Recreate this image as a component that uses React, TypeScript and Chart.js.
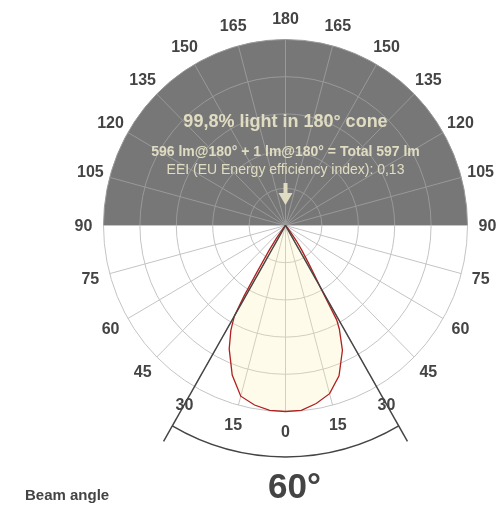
import React, { useEffect, useRef } from "react";
import { Chart, registerables } from "chart.js";

Chart.register(...registerables);

// ---- data ----
const ringValues = [1, 2, 3, 4, 5];
const tickAngles = [0, 15, 30, 45, 60, 75, 90, 105, 120, 135, 150, 165, 180];
const curveAngles = [0, 5, 10, 15, 20, 25, 28, 29, 30, 31, 32, 34, 36, 40, 45];
const curveIntensityLeft = [5.0, 4.99, 4.9, 4.75, 4.28, 3.66, 3.2, 3.0, 2.8, 2.2, 1.5, 0.8, 0.42, 0.1, 0];
const curveIntensityRight = [5.0, 4.99, 4.86, 4.68, 4.3, 3.7, 3.15, 2.9, 1.9, 1.5, 1.2, 0.8, 0.5, 0.12, 0];
const beamAngle = 60;
const headline = "99,8% light in 180° cone";
const fluxLine = "596 lm@180° + 1 lm@180° = Total 597 lm";
const eeiLine = "EEI (EU Energy efficiency index): 0,13";
const beamLabel = "Beam angle";

// ---- layout ----
const W = 497;
const H = 511;
const CX = 285.5;
const CY = 225.5;
const PXX = 36.4;
const PXY = 37.2;
const FONT = '"Liberation Sans", Arial, Helvetica, sans-serif';

const deg = (a: number) => (a * Math.PI) / 180;

function buildCurve() {
  const pts: { x: number; y: number }[] = [];
  for (let i = curveAngles.length - 1; i >= 0; i--) {
    const t = deg(curveAngles[i]);
    const r = curveIntensityLeft[i];
    pts.push({ x: -r * Math.sin(t), y: -r * Math.cos(t) });
  }
  for (let i = 1; i < curveAngles.length; i++) {
    const t = deg(curveAngles[i]);
    const r = curveIntensityRight[i];
    pts.push({ x: r * Math.sin(t), y: -r * Math.cos(t) });
  }
  return pts;
}

const polarPlugin = {
  id: "polarDecor",
  beforeDatasetsDraw(chart: any) {
    const ctx = chart.ctx;
    const xs = chart.scales.x;
    const ys = chart.scales.y;
    const cx = xs.getPixelForValue(0);
    const cy = ys.getPixelForValue(0);
    const rx = (r: number) => xs.getPixelForValue(r) - cx;
    const ry = (r: number) => cy - ys.getPixelForValue(r);
    const R = ringValues[ringValues.length - 1];
    ctx.save();
    // dark upper half
    ctx.beginPath();
    ctx.moveTo(cx, cy);
    ctx.ellipse(cx, cy, rx(R), ry(R), 0, Math.PI, 2 * Math.PI);
    ctx.closePath();
    ctx.fillStyle = "#777777";
    ctx.fill();
    // rings
    ctx.lineWidth = 1;
    for (const r of ringValues) {
      ctx.beginPath();
      ctx.ellipse(cx, cy, rx(r), ry(r), 0, 0, Math.PI);
      ctx.strokeStyle = "#c4c4c4";
      ctx.stroke();
      ctx.beginPath();
      ctx.ellipse(cx, cy, rx(r), ry(r), 0, Math.PI, 2 * Math.PI);
      ctx.strokeStyle = "#999999";
      ctx.stroke();
    }
    // radial lines
    for (const a of tickAngles) {
      const t = deg(a);
      for (const s of [-1, 1]) {
        ctx.beginPath();
        ctx.moveTo(cx, cy);
        ctx.lineTo(cx + s * rx(R) * Math.sin(t), cy + ry(R) * Math.cos(t));
        ctx.strokeStyle = a <= 90 ? "#c4c4c4" : "#999999";
        ctx.stroke();
      }
    }
    ctx.restore();
  },
  afterDatasetsDraw(chart: any) {
    const ctx = chart.ctx;
    const xs = chart.scales.x;
    const ys = chart.scales.y;
    const cx = xs.getPixelForValue(0);
    const cy = ys.getPixelForValue(0);
    const rx = (r: number) => xs.getPixelForValue(r) - cx;
    const ry = (r: number) => cy - ys.getPixelForValue(r);
    const half = deg(beamAngle / 2);
    ctx.save();
    // beam lines
    ctx.strokeStyle = "#444444";
    ctx.lineWidth = 1.5;
    const lineR = 6.7;
    for (const s of [-1, 1]) {
      ctx.beginPath();
      ctx.moveTo(cx, cy);
      ctx.lineTo(cx + s * rx(lineR) * Math.sin(half), cy + ry(lineR) * Math.cos(half));
      ctx.stroke();
    }
    // beam arc
    const arcR = 6.22;
    ctx.beginPath();
    ctx.ellipse(cx, cy, rx(arcR), ry(arcR), 0, Math.PI / 2 - half, Math.PI / 2 + half);
    ctx.stroke();
    // tick labels
    ctx.fillStyle = "#444444";
    ctx.font = `bold 16px ${FONT}`;
    ctx.textAlign = "center";
    ctx.textBaseline = "middle";
    const labR = 5.55;
    for (const a of tickAngles) {
      const t = deg(a);
      const sides = a === 0 || a === 180 ? [1] : [-1, 1];
      for (const s of sides) {
        ctx.fillText(String(a), cx + s * rx(labR) * Math.sin(t), cy + ry(labR) * Math.cos(t) + 1);
      }
    }
    // texts in dark area
    ctx.fillStyle = "#e0dcc2";
    ctx.font = `bold 18px ${FONT}`;
    ctx.fillText(headline, cx, 122);
    ctx.font = `bold 14px ${FONT}`;
    ctx.fillText(fluxLine, cx, 152);
    ctx.font = `14px ${FONT}`;
    ctx.fillText(eeiLine, cx, 170);
    // arrow
    ctx.strokeStyle = "#e0dcc2";
    ctx.lineWidth = 4;
    ctx.beginPath();
    ctx.moveTo(cx, 183);
    ctx.lineTo(cx, 197);
    ctx.stroke();
    ctx.beginPath();
    ctx.moveTo(cx - 7, 193);
    ctx.lineTo(cx + 7, 193);
    ctx.lineTo(cx, 205);
    ctx.closePath();
    ctx.fillStyle = "#e0dcc2";
    ctx.fill();
    // beam angle text
    ctx.fillStyle = "#444444";
    ctx.font = `bold 35px ${FONT}`;
    ctx.fillText(`${beamAngle}°`, cx + 9, 488);
    ctx.font = `bold 15px ${FONT}`;
    ctx.textAlign = "left";
    ctx.fillText(beamLabel, 25, 496);
    ctx.restore();
  },
};

export default function App() {
  const ref = useRef<HTMLCanvasElement | null>(null);
  useEffect(() => {
    if (!ref.current) return;
    const chart = new Chart(ref.current, {
      type: "scatter",
      data: {
        datasets: [
          {
            data: buildCurve(),
            showLine: true,
            fill: "shape",
            backgroundColor: "rgba(255,240,170,0.25)",
            borderColor: "#b02020",
            borderWidth: 1.3,
            pointRadius: 0,
            tension: 0,
          } as any,
        ],
      },
      options: {
        responsive: false,
        animation: false,
        layout: { padding: 0 },
        plugins: { legend: { display: false }, tooltip: { enabled: false } },
        scales: {
          x: { type: "linear", display: false, min: -CX / PXX, max: (W - CX) / PXX },
          y: { type: "linear", display: false, min: -(H - CY) / PXY, max: CY / PXY },
        },
      },
      plugins: [polarPlugin],
    });
    return () => chart.destroy();
  }, []);
  return (
    <div style={{ position: "fixed", left: 0, top: 0, width: W, height: H, background: "#fff" }}>
      <canvas ref={ref} width={W} height={H} style={{ display: "block", width: W, height: H }} />
    </div>
  );
}
